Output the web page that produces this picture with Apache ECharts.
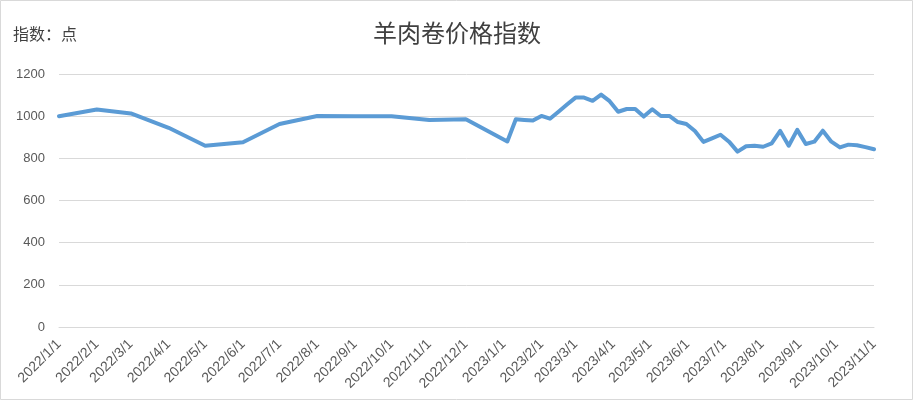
<!DOCTYPE html>
<html>
<head>
<meta charset="utf-8">
<script src="https://cdn.jsdelivr.net/npm/echarts@6/dist/echarts.min.js"></script>
<style>
html,body{margin:0;padding:0;background:#fff;}
#c{width:914px;height:401px;}
</style>
</head>
<body>
<div id="c"></div>
<script>
// 2022: monthly observations
const dates2022 = ['2022-01-01','2022-02-01','2022-03-01','2022-04-01','2022-05-01','2022-06-01',
  '2022-07-01','2022-08-01','2022-09-01','2022-10-01','2022-11-01','2022-12-01'];
const values2022 = [1000,1032,1013,945,860,876,963,1001,1000,1000,982,985];

// 2023: weekly observations
const dates2023 = ['2023-01-04','2023-01-11','2023-01-18','2023-01-25','2023-02-01','2023-02-08',
  '2023-02-15','2023-02-22','2023-03-01','2023-03-08','2023-03-15','2023-03-22','2023-03-29',
  '2023-04-05','2023-04-12','2023-04-19','2023-04-26','2023-05-03','2023-05-10','2023-05-17',
  '2023-05-24','2023-05-31','2023-06-07','2023-06-14','2023-06-21','2023-06-28','2023-07-05',
  '2023-07-12','2023-07-19','2023-07-26','2023-08-02','2023-08-09','2023-08-16','2023-08-23',
  '2023-08-30','2023-09-06','2023-09-13','2023-09-20','2023-09-27','2023-10-04','2023-10-11',
  '2023-10-18','2023-10-25','2023-11-01'];
const values2023 = [880,985,982,979,1001,988,1021,1055,1088,1088,1073,1102,1071,1021,1034,1034,
  998,1033,1001,1001,972,963,930,878,895,912,879,832,857,860,855,871,930,860,935,868,879,931,
  879,852,865,862,853,843];

// x-axis tick labels (month starts)
const monthTicks = ['2022-01-01','2022-02-01','2022-03-01','2022-04-01','2022-05-01','2022-06-01',
  '2022-07-01','2022-08-01','2022-09-01','2022-10-01','2022-11-01','2022-12-01','2023-01-01',
  '2023-02-01','2023-03-01','2023-04-01','2023-05-01','2023-06-01','2023-07-01','2023-08-01',
  '2023-09-01','2023-10-01','2023-11-01'];

const yTicks = [0,200,400,600,800,1000,1200];

function toTs(s){ const p = s.split('-').map(Number); return Date.UTC(p[0], p[1]-1, p[2]); }
function fmt(v){ const d = new Date(v); return d.getUTCFullYear()+'/'+(d.getUTCMonth()+1)+'/'+d.getUTCDate(); }

const seriesData = dates2022.map((d,i)=>[toTs(d), values2022[i]])
  .concat(dates2023.map((d,i)=>[toTs(d), values2023[i]]));
const tickTs = monthTicks.map(toTs);

const chart = echarts.init(document.getElementById('c'));
chart.setOption({
  animation:false,
  backgroundColor:'#fff',
  title:[
    {text:'羊肉卷价格指数', left:'center', top:16,
     textStyle:{fontFamily:'Noto Sans CJK SC', fontSize:24, fontWeight:'normal', color:'#404040'}},
    {text:'指数：点', left:8, top:21,
     textStyle:{fontFamily:'Noto Sans CJK SC', fontSize:16, fontWeight:'normal', color:'#404040'}}
  ],
  graphic:[{type:'rect', shape:{x:0.5,y:0.5,width:912,height:399},
    style:{fill:'none', stroke:'#d9d9d9', lineWidth:1}, silent:true}],
  grid:{left:59, right:40, top:74, bottom:74},
  xAxis:{
    type:'value',
    min:tickTs[0], max:tickTs[tickTs.length-1],
    axisLine:{show:true, lineStyle:{color:'#d9d9d9', width:1}},
    axisTick:{show:false, customValues:tickTs},
    splitLine:{show:false},
    axisLabel:{
      customValues:tickTs,
      formatter:fmt,
      rotate:45,
      color:'#595959',
      fontFamily:'Liberation Sans',
      fontSize:14,
      margin:15,
      showMinLabel:true, showMaxLabel:true
    }
  },
  yAxis:{
    type:'value', min:yTicks[0], max:yTicks[yTicks.length-1], interval:200,
    axisLine:{show:false}, axisTick:{show:false},
    splitLine:{lineStyle:{color:'#d9d9d9', width:1}},
    axisLabel:{color:'#595959', fontFamily:'Liberation Sans', fontSize:13, margin:14,
      formatter:function(v){ return String(v); }}
  },
  series:[{
    type:'line', data:seriesData, showSymbol:false, symbol:'none',
    lineStyle:{color:'#5B9BD5', width:4, cap:'round', join:'round'},
    itemStyle:{color:'#5B9BD5'}
  }]
});
</script>
</body>
</html>
